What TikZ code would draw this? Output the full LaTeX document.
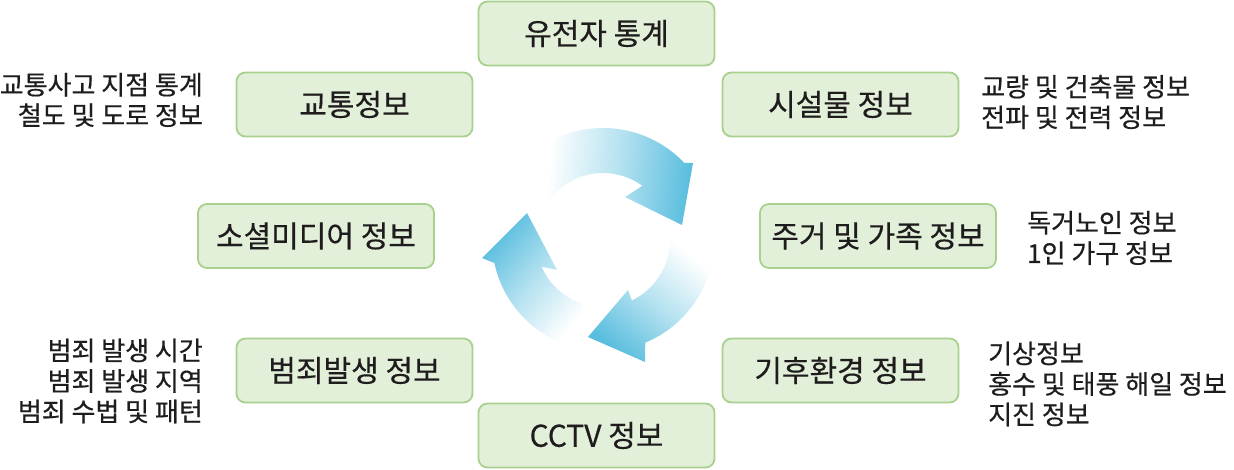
\documentclass[tikz,border=0pt]{standalone}
\usepackage{fontspec}
\setmainfont{Noto Sans CJK KR}[FakeBold=0.4]
\usetikzlibrary{calc}
\definecolor{boxfill}{RGB}{226,239,217}
\definecolor{boxline}{RGB}{169,209,142}
\definecolor{txt}{RGB}{30,28,28}
\definecolor{arrowblue}{RGB}{88,189,222}
\begin{document}
\begin{tikzpicture}[x=1pt,y=-1pt,
  infobox/.style={draw=boxline, line width=1.8pt, fill=boxfill, rounded corners=9pt,
    minimum width=236pt, minimum height=64pt, inner sep=0pt,
    font=\fontsize{30}{34}\selectfont, text=txt},
  sidetext/.style={font=\fontsize{26}{30.5}\selectfont, text=txt, inner sep=0pt}]
\useasboundingbox (0,0) rectangle (1234,470);
\fill[white] (0,0) rectangle (1234,470);

% cycle arrows
\coordinate (C) at (603,240);
\path[top color=arrowblue, bottom color=white, middle color=arrowblue!45, shading angle=-95]
  ($(C)+(245:112)$) arc[start angle=245, end angle=316.5, radius=112]
  -- (693,163) -- (682,225) -- (625,197)
  -- ($(C)+(306:67)$) arc[start angle=306, end angle=212, radius=67] -- cycle;
\path[top color=arrowblue, bottom color=white, middle color=arrowblue!45, shading angle=140]
  ($(C)+(8:111)$) arc[start angle=8, end angle=67.6, radius=111]
  -- (645,362) -- (588,337) -- (628,290)
  -- ($(C)+(64.5:67)$) arc[start angle=64.5, end angle=0, radius=67] -- cycle;
\path[top color=arrowblue, bottom color=white, middle color=arrowblue!45, shading angle=50]
  ($(C)+(100:111)$) arc[start angle=100, end angle=168, radius=111]
  -- (482,258) -- (527,213) -- (557,270)
  -- ($(C)+(156.5:67)$) arc[start angle=156.5, end angle=108, radius=67] -- cycle;

% boxes
\node[infobox] (gene) at (596.5,33.5) {유전자 통계};
\node[infobox] (traffic) at (354.5,104.5) {교통정보};
\node[infobox] (facility) at (840.5,104.5) {시설물 정보};
\node[infobox] (social) at (316,236) {소셜미디어 정보};
\node[infobox] (housing) at (878,236) {주거 및 가족 정보};
\node[infobox] (crime) at (354.5,370.5) {범죄발생 정보};
\node[infobox] (climate) at (840.5,370.5) {기후환경 정보};
\node[infobox] (cctv) at (596.5,435.5) {CCTV 정보};

% side texts
\node[sidetext, anchor=east, align=right] (trafficnote) at (203,100)
  {교통사고 지점 통계\\철도 및 도로 정보};
\node[sidetext, anchor=west, align=left] (facilitynote) at (981,102)
  {교량 및 건축물 정보\\전파 및 전력 정보};
\node[sidetext, anchor=west, align=left] (housingnote) at (1027,238)
  {독거노인 정보\\1인 가구 정보};
\node[sidetext, anchor=west, align=left] (climatenote) at (988,384)
  {기상정보\\홍수 및 태풍 해일 정보\\지진 정보};
\node[sidetext, anchor=east, align=right] (crimenote) at (203,381)
  {범죄 발생 시간\\범죄 발생 지역\\범죄 수법 및 패턴};
\end{tikzpicture}
\end{document}
